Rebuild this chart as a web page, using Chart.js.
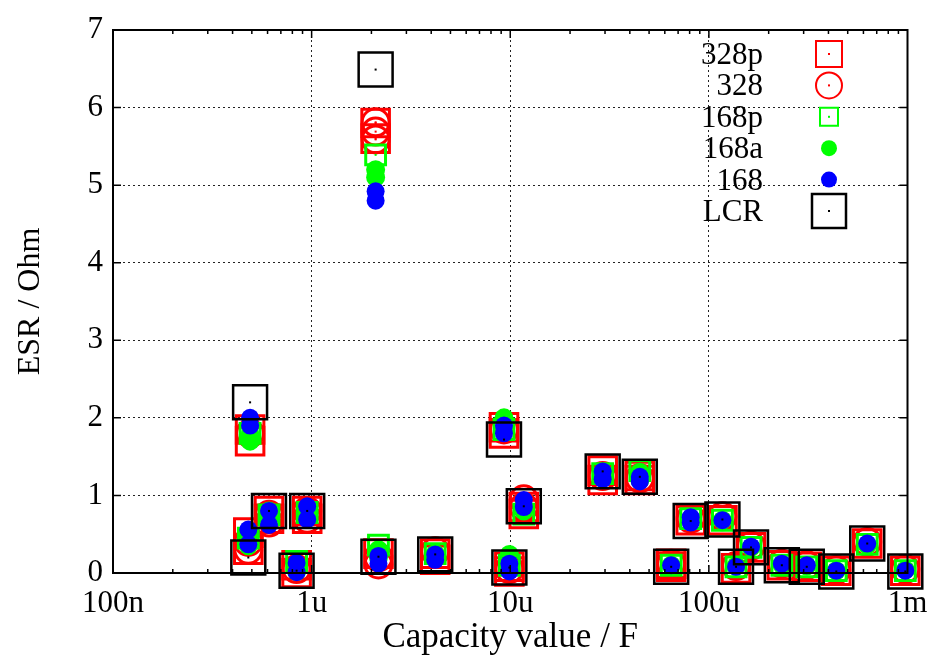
<!DOCTYPE html>
<html>
<head>
<meta charset="utf-8">
<title>ESR vs capacity</title>
<script src="https://cdn.jsdelivr.net/npm/chart.js@4.4.0/dist/chart.umd.min.js"></script>
<style>
  html, body { margin: 0; padding: 0; background: #fff; }
  canvas { display: block; }
</style>
</head>
<body>
<canvas id="esrChart" width="934" height="659"></canvas>
<script>
// capacitors (in uF) and the ESR (Ohm) read by each tester; one or more readings per capacitor
const CAPS_UF = [0.49, 0.48, 0.61, 0.84, 0.95, 2.1, 2.17, 4.19, 9.3, 9.9, 11.7, 29.2, 44.9, 64.6, 81, 117, 137, 163, 233, 311, 438, 627, 975];

const ESR_LCR = [2.20, 0.20, 0.80, 0.03, 0.80, 6.49, 0.21, 0.24, 1.72, 0.07, 0.86, 1.31, 1.24, 0.08, 0.67, 0.69, 0.08, 0.33, 0.10, 0.08, 0.02, 0.38, 0.02];

const ESR_328P = [[1.70, 1.85], [0.52, 0.30], [0.80, 0.70], [0.10, 0.00], [0.80, 0.70], [5.80, 5.60], [0.25], [0.17, 0.25],
  [1.88, 1.80], [0.08, 0.02], [0.76, 0.85], [1.32, 1.20], [1.25, 1.20], [0.08, 0.12], [0.68], [0.68], [0.06], [0.33],
  [0.10], [0.08], [0.03], [0.38], [0.03]];

const ESR_328 = [[1.80], [0.30, 0.40], [0.65, 0.75], [0.05], [0.80, 0.70], [5.81, 5.69, 5.59], [0.11, 0.20], [0.28],
  [1.85], [0.05], [0.95, 0.85], [1.25], [1.22], [0.12], [0.70], [0.73], [0.09], [0.35],
  [0.12], [0.10], [0.04], [0.40], [0.05]];

const ESR_168P = [[1.80], [0.45], [0.75], [0.15], [0.78], [5.39], [0.36], [0.25],
  [1.85], [0.10], [0.76], [1.28], [1.32], [0.10], [0.70], [0.68], [0.08], [0.33],
  [0.10], [0.08], [0.03], [0.37], [0.03]];

const ESR_168A = [[1.70, 1.78], [0.35, 0.50], [0.70, 0.80], [0.02, 0.10], [0.72, 0.80], [5.20, 5.10], [0.30, 0.20], [0.25, 0.20],
  [2.00, 1.85], [0.24, 0.10], [0.85, 0.80], [1.30, 1.22], [1.30, 1.20], [0.10], [0.70], [0.68], [0.09], [0.33],
  [0.11], [0.09], [0.03], [0.36], [0.04]];

const ESR_168 = [[2.00, 1.90], [0.56, 0.37], [0.80, 0.62], [0.13, 0.01], [0.86, 0.69], [4.92, 4.80], [0.22, 0.12], [0.24, 0.17],
  [1.90, 1.80], [0.12, 0.02], [0.94, 0.85], [1.31, 1.21], [1.24, 1.18], [0.10], [0.72, 0.65], [0.68], [0.08], [0.34],
  [0.12], [0.10], [0.03], [0.38], [0.03]];

const X_TICK_VALUES = [1e-7, 1e-6, 1e-5, 1e-4, 1e-3];
const X_TICK_LABELS = ['100n', '1u', '10u', '100u', '1m'];
const Y_TICK_VALUES = [0, 1, 2, 3, 4, 5, 6, 7];

const RED = '#ff0000';
const GREEN = '#00ff00';
const BLUE = '#0000ff';
const FONT = "'Liberation Serif', 'Times New Roman', serif";

Chart.defaults.font.family = FONT;
Chart.defaults.font.size = 30;
Chart.defaults.color = '#000';

function points(vals) {
    return CAPS_UF.flatMap((c, i) => [].concat(vals[i]).map(v => ({ x: c * 1e-6, y: v })));
}

function decadeIndex(v) {
    return X_TICK_VALUES.findIndex(t => Math.abs(v / t - 1) < 1e-6);
}

// style of each series; legend marker sizes from the reference key
const series = [
    { label: '328p', data: points(ESR_328P), pointStyle: 'rect',   pointRadius: 19.5, borderColor: RED,   backgroundColor: 'transparent', borderWidth: 3,   order: 5, dot: true,  key: { shape: 'rect', size: 26, lw: 2 } },
    { label: '328',  data: points(ESR_328),  pointStyle: 'circle', pointRadius: 13.5, borderColor: RED,   backgroundColor: 'transparent', borderWidth: 3,   order: 4, dot: true,  key: { shape: 'circle', size: 26, lw: 2 } },
    { label: '168p', data: points(ESR_168P), pointStyle: 'rect',   pointRadius: 14,   borderColor: GREEN, backgroundColor: 'transparent', borderWidth: 3,   order: 3, dot: true,  key: { shape: 'rect', size: 18, lw: 2 } },
    { label: '168a', data: points(ESR_168A), pointStyle: 'circle', pointRadius: 9.5,  borderColor: GREEN, backgroundColor: GREEN,         borderWidth: 0,   order: 2, dot: false, key: { shape: 'disc', size: 16, lw: 0 } },
    { label: '168',  data: points(ESR_168),  pointStyle: 'circle', pointRadius: 9,    borderColor: BLUE,  backgroundColor: BLUE,          borderWidth: 0,   order: 1, dot: false, key: { shape: 'disc', size: 16, lw: 0 } },
    { label: 'LCR',  data: points(ESR_LCR),  pointStyle: 'rect',   pointRadius: 24,   borderColor: '#000', backgroundColor: 'transparent', borderWidth: 2.5, order: 0, dot: true, key: { shape: 'rect', size: 34, lw: 2.5 } }
];

/* ── centre dot drawn after each dataset (keeps gnuplot stacking) ── */
const centreDots = {
    id: 'centreDots',
    afterDatasetDraw(chart, args) {
        const ds = chart.data.datasets[args.index];
        if (!ds.dot) return;
        const ctx = chart.ctx;
        ctx.save();
        ctx.fillStyle = ds.borderColor;
        args.meta.data.forEach(p => ctx.fillRect(p.x - 1, p.y - 1, 2, 2));
        ctx.restore();
    }
};

/* ── gnuplot style frame with inward ticks on all four sides ── */
const frameTicks = {
    id: 'frameTicks',
    afterDatasetsDraw(chart) {
        const { ctx, chartArea: a, scales: { x, y } } = chart;
        ctx.save();
        ctx.strokeStyle = '#000';
        ctx.lineWidth = 1.5;
        ctx.beginPath();
        x.ticks.forEach(t => {
            const px = x.getPixelForValue(t.value);
            if (px <= a.left + 1 || px >= a.right - 1) return;
            const len = decadeIndex(t.value) >= 0 ? 8 : 4;
            ctx.moveTo(px, a.bottom); ctx.lineTo(px, a.bottom - len);
            ctx.moveTo(px, a.top); ctx.lineTo(px, a.top + len);
        });
        y.ticks.forEach(t => {
            const py = y.getPixelForValue(t.value);
            if (py <= a.top + 1 || py >= a.bottom - 1) return;
            ctx.moveTo(a.left, py); ctx.lineTo(a.left + 8, py);
            ctx.moveTo(a.right, py); ctx.lineTo(a.right - 8, py);
        });
        ctx.stroke();
        ctx.lineWidth = 2;
        ctx.strokeRect(a.left, a.top, a.right - a.left, a.bottom - a.top);
        ctx.restore();
    }
};

/* ── key in the upper right corner: text first, then marker ── */
const keyBox = {
    id: 'keyBox',
    afterDraw(chart) {
        const ctx = chart.ctx;
        ctx.save();
        ctx.font = '31px ' + FONT;
        ctx.textAlign = 'right';
        ctx.textBaseline = 'alphabetic';
        chart.data.datasets.forEach((ds, i) => {
            const cy = 54 + i * 31.4;
            const cx = 829;
            const k = ds.key;
            ctx.fillStyle = '#000';
            ctx.fillText(ds.label, 763, cy + 10);
            ctx.lineWidth = k.lw;
            ctx.strokeStyle = ds.borderColor;
            ctx.fillStyle = ds.borderColor;
            ctx.beginPath();
            if (k.shape === 'rect') {
                ctx.rect(cx - k.size / 2, cy - k.size / 2, k.size, k.size);
                ctx.stroke();
            } else if (k.shape === 'circle') {
                ctx.arc(cx, cy, k.size / 2, 0, Math.PI * 2);
                ctx.stroke();
            } else {
                ctx.arc(cx, cy, k.size / 2, 0, Math.PI * 2);
                ctx.fill();
            }
            if (ds.dot) ctx.fillRect(cx - 1, cy - 1, 2, 2);
        });
        ctx.restore();
    }
};

new Chart(document.getElementById('esrChart'), {
    type: 'scatter',
    data: {
        datasets: series.map(s => ({
            label: s.label,
            data: s.data,
            pointStyle: s.pointStyle,
            pointRadius: s.pointRadius,
            pointHoverRadius: s.pointRadius,
            borderColor: s.borderColor,
            backgroundColor: s.backgroundColor,
            borderWidth: s.borderWidth,
            order: s.order,
            dot: s.dot,
            key: s.key,
            clip: false
        }))
    },
    options: {
        responsive: false,
        animation: false,
        devicePixelRatio: 1,
        events: [],
        layout: { padding: { top: 30, right: 22, bottom: 0, left: 0 } },
        plugins: { legend: { display: false }, tooltip: { enabled: false } },
        scales: {
            x: {
                type: 'logarithmic',
                min: X_TICK_VALUES[0],
                max: X_TICK_VALUES[X_TICK_VALUES.length - 1],
                afterBuildTicks: scale => {
                    const ticks = [];
                    X_TICK_VALUES.forEach((d, i) => {
                        for (let m = 1; m <= 9; m++) {
                            if (i === X_TICK_VALUES.length - 1 && m > 1) break;
                            ticks.push({ value: d * m });
                        }
                    });
                    scale.ticks = ticks;
                },
                afterFit: scale => { scale.height = 86; scale.paddingLeft = 0; scale.paddingRight = 0; },
                ticks: {
                    autoSkip: false,
                    maxRotation: 0,
                    padding: 12,
                    font: { size: 31 },
                    callback: v => {
                        const i = decadeIndex(v);
                        return i >= 0 ? X_TICK_LABELS[i] : '';
                    }
                },
                grid: {
                    drawTicks: false,
                    lineWidth: 1,
                    color: c => {
                        const i = c.tick ? decadeIndex(c.tick.value) : -1;
                        return (i > 0 && i < X_TICK_VALUES.length - 1) ? '#222' : 'transparent';
                    }
                },
                border: { display: false, dash: [2, 3] },
                title: {
                    display: true,
                    text: 'Capacity value / F',
                    font: { size: 35 },
                    padding: { top: 0, bottom: 0 }
                }
            },
            y: {
                min: Y_TICK_VALUES[0],
                max: Y_TICK_VALUES[Y_TICK_VALUES.length - 1],
                afterBuildTicks: scale => { scale.ticks = Y_TICK_VALUES.map(v => ({ value: v })); },
                afterFit: scale => { scale.width = 113; scale.paddingTop = 0; scale.paddingBottom = 0; },
                ticks: { padding: 10, font: { size: 31 } },
                grid: {
                    drawTicks: false,
                    lineWidth: 1,
                    color: c => (c.tick && c.tick.value > 0 && c.tick.value < 7) ? '#222' : 'transparent'
                },
                border: { display: false, dash: [2, 3] },
                title: {
                    display: true,
                    text: 'ESR / Ohm',
                    font: { size: 32 },
                    padding: { top: 11, bottom: 0 }
                }
            }
        }
    },
    plugins: [centreDots, frameTicks, keyBox]
});
</script>
</body>
</html>
